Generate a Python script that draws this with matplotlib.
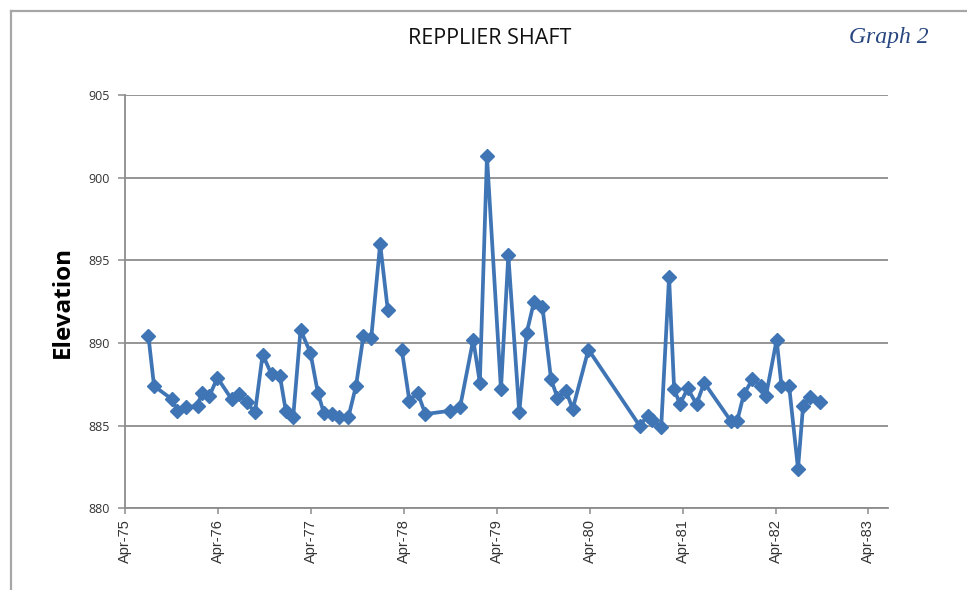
import numpy as np
import pandas as pd
import matplotlib
matplotlib.use("Agg")
import matplotlib.pyplot as plt
import matplotlib.dates as mdates
from matplotlib.lines import Line2D

dates = [
    "1975-07-01", "1975-07-23", "1975-10-01", "1975-10-23", "1975-11-27",
    "1976-01-10", "1976-01-27", "1976-02-26", "1976-03-28", "1976-05-23",
    "1976-06-21", "1976-07-21", "1976-08-23", "1976-09-22", "1976-10-27",
    "1976-11-29", "1976-12-22", "1977-01-20", "1977-02-18", "1977-03-29",
    "1977-04-27", "1977-05-21", "1977-06-21", "1977-07-21", "1977-08-25",
    "1977-09-24", "1977-10-23", "1977-11-23", "1977-12-28", "1978-01-27",
    "1978-02-24",
    "1978-03-23", "1978-04-22", "1978-05-24", "1978-06-24", "1978-09-29",
    "1978-11-07", "1978-12-29", "1979-01-24", "1979-02-21", "1979-04-17",
    "1979-05-16", "1979-06-28", "1979-07-27", "1979-08-25", "1979-09-27",
    "1979-10-31", "1979-11-25", "1979-12-29", "1980-01-24", "1980-03-26",
    "1980-10-13", "1980-11-15", "1980-12-01", "1981-01-06", "1981-02-06",
    "1981-02-26", "1981-03-21", "1981-04-20", "1981-05-25", "1981-06-24",
    "1981-10-06", "1981-11-01", "1981-11-27", "1981-12-31", "1982-02-02",
    "1982-02-22", "1982-04-05", "1982-04-24", "1982-05-24", "1982-06-28",
    "1982-07-18", "1982-08-16", "1982-09-21",
]
elevation = [
    890.4, 887.4, 886.6, 885.9, 886.1,
    886.2, 887.0, 886.8, 887.9, 886.6,
    886.9, 886.4, 885.8, 889.3, 888.1,
    888.0, 885.9, 885.5, 890.8, 889.4,
    887.0, 885.75, 885.7, 885.5, 885.5,
    887.4, 890.4, 890.3, 896.0, 892.0,
    np.nan,
    889.6, 886.5, 887.0, 885.7, 885.9,
    886.1, 890.2, 887.6, 901.3, 887.2,
    895.3, 885.8, 890.6, 892.5, 892.2,
    887.8, 886.7, 887.1, 886.0, 889.6,
    885.0, 885.6, 885.35, 884.9, 894.0,
    887.2, 886.3, 887.25, 886.3, 887.6,
    885.3, 885.3, 886.9, 887.8, 887.4,
    886.8, 890.2, 887.4, 887.4, 882.4,
    886.2, 886.75, 886.4,
]
tick_dates = ["1975-04-01", "1976-04-01", "1977-04-01", "1978-04-01", "1979-04-01",
              "1980-04-01", "1981-04-01", "1982-04-01", "1983-04-01"]
y_ticks = [880, 885, 890, 895, 900, 905]

x = pd.to_datetime(dates)
ticks = pd.to_datetime(tick_dates)

fig = plt.figure(figsize=(9.67, 5.9), dpi=100)
ax = fig.add_axes([125.3 / 967, 1 - 508.3 / 590, (888.3 - 125.3) / 967, (508.3 - 95) / 590])

line_col = "#3f75b5"
grid_col = "#8c8c8c"

ax.plot(x, elevation, color=line_col, lw=2.7, marker="D", markersize=7.5,
        markerfacecolor=line_col, markeredgecolor=line_col, zorder=3)

ax.set_ylim(880, 905)
ax.set_yticks(y_ticks)
ax.set_xlim(pd.Timestamp("1975-04-01"), pd.Timestamp("1983-06-18"))
ax.set_xticks(ticks)
ax.xaxis.set_major_formatter(mdates.DateFormatter("%b-%y"))

ax.grid(axis="y", color=grid_col, lw=1.3)
ax.set_axisbelow(True)
for s in ["top", "right"]:
    ax.spines[s].set_visible(False)
for s in ["left", "bottom"]:
    ax.spines[s].set_color(grid_col)
    ax.spines[s].set_linewidth(1.3)

ax.tick_params(axis="y", length=5, width=1.1, color=grid_col, labelsize=9,
               labelcolor="#333333", pad=6)
ax.tick_params(axis="x", length=4, width=1.1, color=grid_col, labelsize=10.5,
               labelcolor="#333333", pad=4, labelrotation=90)
for lab in ax.get_xticklabels():
    lab.set_fontfamily("Liberation Sans")
for lab in ax.get_yticklabels():
    lab.set_fontfamily("Open Sans")

ax.set_ylabel("Elevation", fontsize=17.5, fontweight="bold", family="Open Sans",
              labelpad=10, color="#000000")

fig.text(490 / 967, 1 - 38 / 590, "REPPLIER SHAFT", ha="center", va="center",
         fontsize=15.5, family="Open Sans", color="#111111")
fig.text(889 / 967, 1 - 38 / 590, "Graph 2", ha="center", va="center",
         fontsize=17, family="Liberation Serif", style="italic", color="#27457f")

# frame lines
fig.add_artist(Line2D([10.7 / 967, 1.0], [1 - 10.7 / 590, 1 - 10.7 / 590],
                      transform=fig.transFigure, color="#a6a6a6", lw=1.6))
fig.add_artist(Line2D([10.7 / 967, 10.7 / 967], [1 - 10.7 / 590, 0.0],
                      transform=fig.transFigure, color="#a6a6a6", lw=1.6))

fig.savefig("out.png", dpi=100, facecolor="white")
